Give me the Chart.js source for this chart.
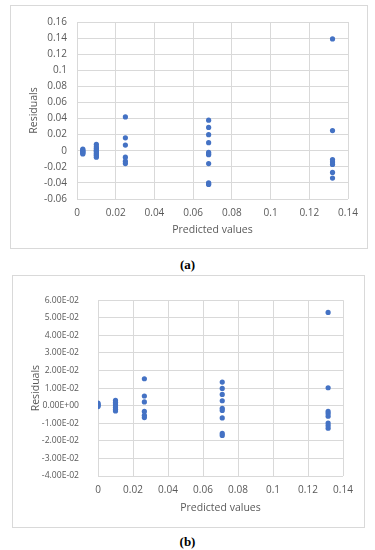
<!DOCTYPE html>
<html>
<head>
<meta charset="utf-8">
<script src="https://cdn.jsdelivr.net/npm/chart.js@4"></script>
<style>
    body { margin: 0; background: #fff; width: 375px; height: 550px; position: relative; overflow: hidden; }
    .box { position: absolute; border: 1px solid #d9d9d9; box-sizing: border-box; }
    .box canvas { position: absolute; left: 0; top: 0; }
    .cap { position: absolute; width: 375px; left: 0; text-align: center; font: bold 13px "Liberation Serif", serif; color: #000; }
</style>
</head>
<body>
<div class="box" id="boxA" style="left:10px; top:5px; width:358px; height:244px;"><canvas id="chartA" width="358" height="244"></canvas></div>
<div class="cap" style="top:257px;">(a)</div>
<div class="box" id="boxB" style="left:12px; top:275px; width:353px; height:253px;"><canvas id="chartB" width="353" height="253"></canvas></div>
<div class="cap" style="top:534px;">(b)</div>
<script>
// 图 (a) 数据
const predA = [
    0.003, 0.003, 0.003, 0.003, 0.003, 0.003, 0.003,
    0.010, 0.010, 0.010, 0.010, 0.010, 0.010, 0.010, 0.010, 0.010, 0.010,
    0.025, 0.025, 0.025, 0.025, 0.025, 0.025,
    0.068, 0.068, 0.068, 0.068, 0.068, 0.068, 0.068, 0.068, 0.068, 0.068, 0.068,
    0.132, 0.132, 0.132, 0.132, 0.132, 0.132, 0.132
];
const residA = [
    0.002, 0.001, 0, -0.001, -0.002, -0.003, -0.004,
    0.008, 0.005, 0.003, 0.001, 0, -0.001, -0.003, -0.005, -0.006, -0.008,
    0.042, 0.016, 0.007, -0.008, -0.013, -0.016,
    0.038, 0.029, 0.020, 0.010, -0.002, -0.004, -0.005, -0.016, -0.040, -0.041, -0.042,
    0.139, 0.025, -0.011, -0.014, -0.017, -0.027, -0.034
];
const xTickValsA = [0, 0.02, 0.04, 0.06, 0.08, 0.1, 0.12, 0.14];
const xTickLabelsA = ['0', '0.02', '0.04', '0.06', '0.08', '0.1', '0.12', '0.14'];
const yTickValsA = [-0.06, -0.04, -0.02, 0, 0.02, 0.04, 0.06, 0.08, 0.1, 0.12, 0.14, 0.16];
const yTickLabelsA = ['-0.06', '-0.04', '-0.02', '0', '0.02', '0.04', '0.06', '0.08', '0.1', '0.12', '0.14', '0.16'];

// 图 (b) 数据
const predB = [
    0, 0, 0, 0, 0,
    0.010, 0.010, 0.010, 0.010, 0.010, 0.010, 0.010,
    0.0265, 0.0265, 0.0265, 0.0265, 0.0265, 0.0265,
    0.071, 0.071, 0.071, 0.071, 0.071, 0.071, 0.071, 0.071, 0.071,
    0.1315, 0.1315, 0.1315, 0.1315, 0.1315, 0.1315, 0.1315, 0.1315
];
const residB = [
    0.0015, 0.001, 0.0005, 0, -0.0005,
    0.003, 0.002, 0.001, 0, -0.001, -0.002, -0.003,
    0.0153, 0.0055, 0.0021, -0.0033, -0.0055, -0.0068,
    0.0134, 0.0098, 0.0064, 0.0028, -0.0015, -0.0027, -0.007, -0.0158, -0.0169,
    0.053, 0.0102, -0.0033, -0.0045, -0.006, -0.0099, -0.0113, -0.0128
];
const xTickValsB = [0, 0.02, 0.04, 0.06, 0.08, 0.1, 0.12, 0.14];
const xTickLabelsB = ['0', '0.02', '0.04', '0.06', '0.08', '0.1', '0.12', '0.14'];
const yTickValsB = [-0.04, -0.03, -0.02, -0.01, 0, 0.01, 0.02, 0.03, 0.04, 0.05, 0.06];
const yTickLabelsB = ['-4.00E-02', '-3.00E-02', '-2.00E-02', '-1.00E-02', '0.00E+00', '1.00E-02', '2.00E-02', '3.00E-02', '4.00E-02', '5.00E-02', '6.00E-02'];

const tickColor = '#595959';
const gridColor = '#d9d9d9';

// 通用散点图
function makeChart(id, xs, ys, cfg) {
    const points = xs.map((x, i) => ({ x: x, y: ys[i] }));
    return new Chart(document.getElementById(id), {
        type: 'scatter',
        data: {
            datasets: [{
                data: points,
                backgroundColor: '#4472C4',
                borderColor: '#4472C4',
                pointRadius: 2.6,
                pointBorderWidth: 0
            }]
        },
        options: {
            responsive: false,
            animation: false,
            layout: { padding: { left: 0, right: cfg.padRight, top: cfg.padTop, bottom: 0 } },
            plugins: { legend: { display: false }, tooltip: { enabled: false } },
            scales: {
                x: {
                    type: 'linear',
                    min: cfg.xVals[0],
                    max: cfg.xVals[cfg.xVals.length - 1],
                    afterBuildTicks: s => { s.ticks = cfg.xVals.map(v => ({ value: v })); },
                    afterFit: s => { s.height = cfg.xHeight; },
                    grid: { color: gridColor, drawTicks: false },
                    border: { display: false },
                    ticks: {
                        padding: 8,
                        maxRotation: 0,
                        autoSkip: false,
                        color: tickColor,
                        font: { family: '"Open Sans", sans-serif', size: 10 },
                        callback: (v, i) => cfg.xLabels[i]
                    },
                    title: {
                        display: true,
                        text: 'Predicted values',
                        color: tickColor,
                        font: { family: '"Open Sans", sans-serif', size: 10.5 },
                        padding: { top: 0, bottom: cfg.xTitlePad }
                    }
                },
                y: {
                    type: 'linear',
                    min: cfg.yVals[0],
                    max: cfg.yVals[cfg.yVals.length - 1],
                    afterBuildTicks: s => { s.ticks = cfg.yVals.map(v => ({ value: v })); },
                    afterFit: s => { s.width = cfg.yWidth; },
                    grid: { color: gridColor, drawTicks: false },
                    border: { display: false },
                    ticks: {
                        padding: cfg.yTickPad,
                        autoSkip: false,
                        color: tickColor,
                        font: { family: '"Open Sans", sans-serif', size: cfg.yTickSize },
                        callback: (v, i) => cfg.yLabels[i]
                    },
                    title: {
                        display: true,
                        text: 'Residuals',
                        color: tickColor,
                        font: { family: '"Open Sans", sans-serif', size: 10.5 },
                        padding: { top: 17, bottom: 0 }
                    }
                }
            }
        }
    });
}

makeChart('chartA', predA, residA, {
    xVals: xTickValsA, xLabels: xTickLabelsA,
    yVals: yTickValsA, yLabels: yTickLabelsA,
    padRight: 21, padTop: 13, xHeight: 51, yWidth: 66,
    yTickPad: 10, yTickSize: 10, xTitlePad: 14
});

makeChart('chartB', predB, residB, {
    xVals: xTickValsB, xLabels: xTickLabelsB,
    yVals: yTickValsB, yLabels: yTickLabelsB,
    padRight: 23, padTop: 14, xHeight: 53, yWidth: 85,
    yTickPad: 19, yTickSize: 8.6, xTitlePad: 15
});
</script>
</body>
</html>
